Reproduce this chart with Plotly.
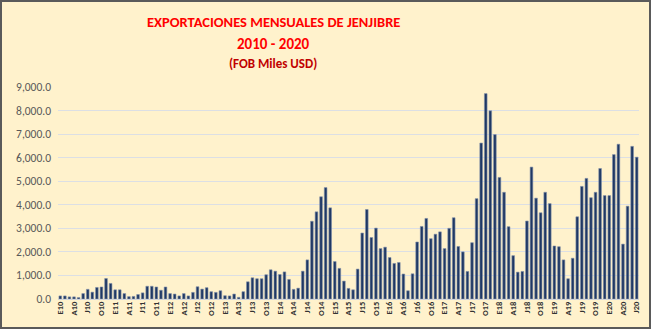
import plotly.graph_objects as go

# Monthly FOB exports (thousand USD), Jan 2010 .. Jul 2020
v2010 = [130, 130, 90, 90, 60, 230, 410, 290, 490, 510, 870, 660]
v2011 = [390, 390, 230, 100, 110, 190, 260, 540, 540, 510, 370, 510]
v2012 = [230, 210, 130, 230, 130, 280, 520, 420, 480, 310, 280, 350]
v2013 = [140, 130, 210, 70, 310, 730, 900, 860, 860, 1030, 1240, 1180]
v2014 = [1040, 1150, 830, 410, 460, 1180, 1660, 3300, 3700, 4340, 4730, 3870]
v2015 = [1590, 1300, 760, 450, 390, 1270, 2800, 3800, 2610, 3010, 2140, 2200]
v2016 = [1760, 1510, 1550, 1060, 350, 1070, 2420, 3080, 3420, 2560, 2750, 2850]
v2017 = [2140, 3000, 3450, 2230, 2000, 1170, 2390, 4260, 6620, 8720, 7990, 6980]
v2018 = [5160, 4530, 3070, 1840, 1140, 1170, 3310, 5600, 4280, 3660, 4530, 4050]
v2019 = [2250, 2220, 1660, 860, 1730, 3490, 4780, 5120, 4300, 4530, 5540, 4390]
v2020 = [4390, 6130, 6570, 2330, 3940, 6480, 6020]

values = v2010 + v2011 + v2012 + v2013 + v2014 + v2015 + v2016 + v2017 + v2018 + v2019 + v2020
months = list(range(len(values)))

tick_months = ["E", "A", "J", "O"]
tick_years = list(range(10, 21))
tickvals = list(range(0, len(values), 3))
ticktext = [f"{m}{y}" for y in tick_years for m in tick_months][:len(tickvals)]

yticks = [0, 1000, 2000, 3000, 4000, 5000, 6000, 7000, 8000, 9000]

W, H = 652, 332
ML, MR, MT, MB = 58, 13, 87, 33
pw = W - ML - MR
ph = H - MT - MB

def px_x(p):
    return (p - ML) / pw

def px_y(p):
    return (H - MB - p) / ph

fig = go.Figure()
fig.add_trace(go.Bar(
    x=months, y=values,
    marker=dict(color="#1F3864", line=dict(color="#7F8FA9", width=0.6)),
    hoverinfo="y",
))

fig.add_shape(type="rect", xref="paper", yref="paper",
              x0=px_x(1), x1=px_x(650), y0=px_y(328), y1=px_y(1),
              fillcolor="#FFF2CC", line=dict(color="#5A5A5A", width=2),
              layer="below")

font_t = "Carlito, Lato, 'Open Sans', sans-serif"
cx = px_x(273)
common = dict(xref="paper", yref="paper", xanchor="center", yanchor="middle", showarrow=False)
fig.add_annotation(x=cx, y=px_y(22), text="<b>EXPORTACIONES MENSUALES DE JENJIBRE</b>",
                   font=dict(family=font_t, size=14.5, color="#FF0000"), **common)
fig.add_annotation(x=cx, y=px_y(44), text="<b>2010 - 2020</b>",
                   font=dict(family=font_t, size=15, color="#FF0000"), **common)
fig.add_annotation(x=cx, y=px_y(63), text="<b>(FOB Miles USD)</b>",
                   font=dict(family=font_t, size=13, color="#C00000"), **common)

fig.update_layout(
    width=W, height=H,
    margin=dict(l=ML, r=MR, t=MT, b=MB, pad=0),
    paper_bgcolor="white",
    plot_bgcolor="rgba(0,0,0,0)",
    bargap=0.42,
    showlegend=False,
    xaxis=dict(
        range=[-0.5, len(values) - 0.5],
        tickmode="array", tickvals=tickvals, ticktext=[f"<b>{t}</b>" for t in ticktext],
        tickangle=-90, tickfont=dict(family=font_t, size=8.5, color="#333333"),
        showgrid=False, zeroline=False, showline=False, ticks="", ticklen=0,
    ),
    yaxis=dict(
        range=[0, 9000], tickmode="array", tickvals=yticks,
        tickformat=",.1f",
        tickfont=dict(family=font_t, size=11.5, color="#595959"),
        ticklabelstandoff=6,
        showgrid=True, gridcolor="#DCDFE4", gridwidth=1,
        zeroline=True, zerolinecolor="#D0D3D8", zerolinewidth=1,
        showline=False, ticks="",
    ),
)

fig.write_html("out.html")
